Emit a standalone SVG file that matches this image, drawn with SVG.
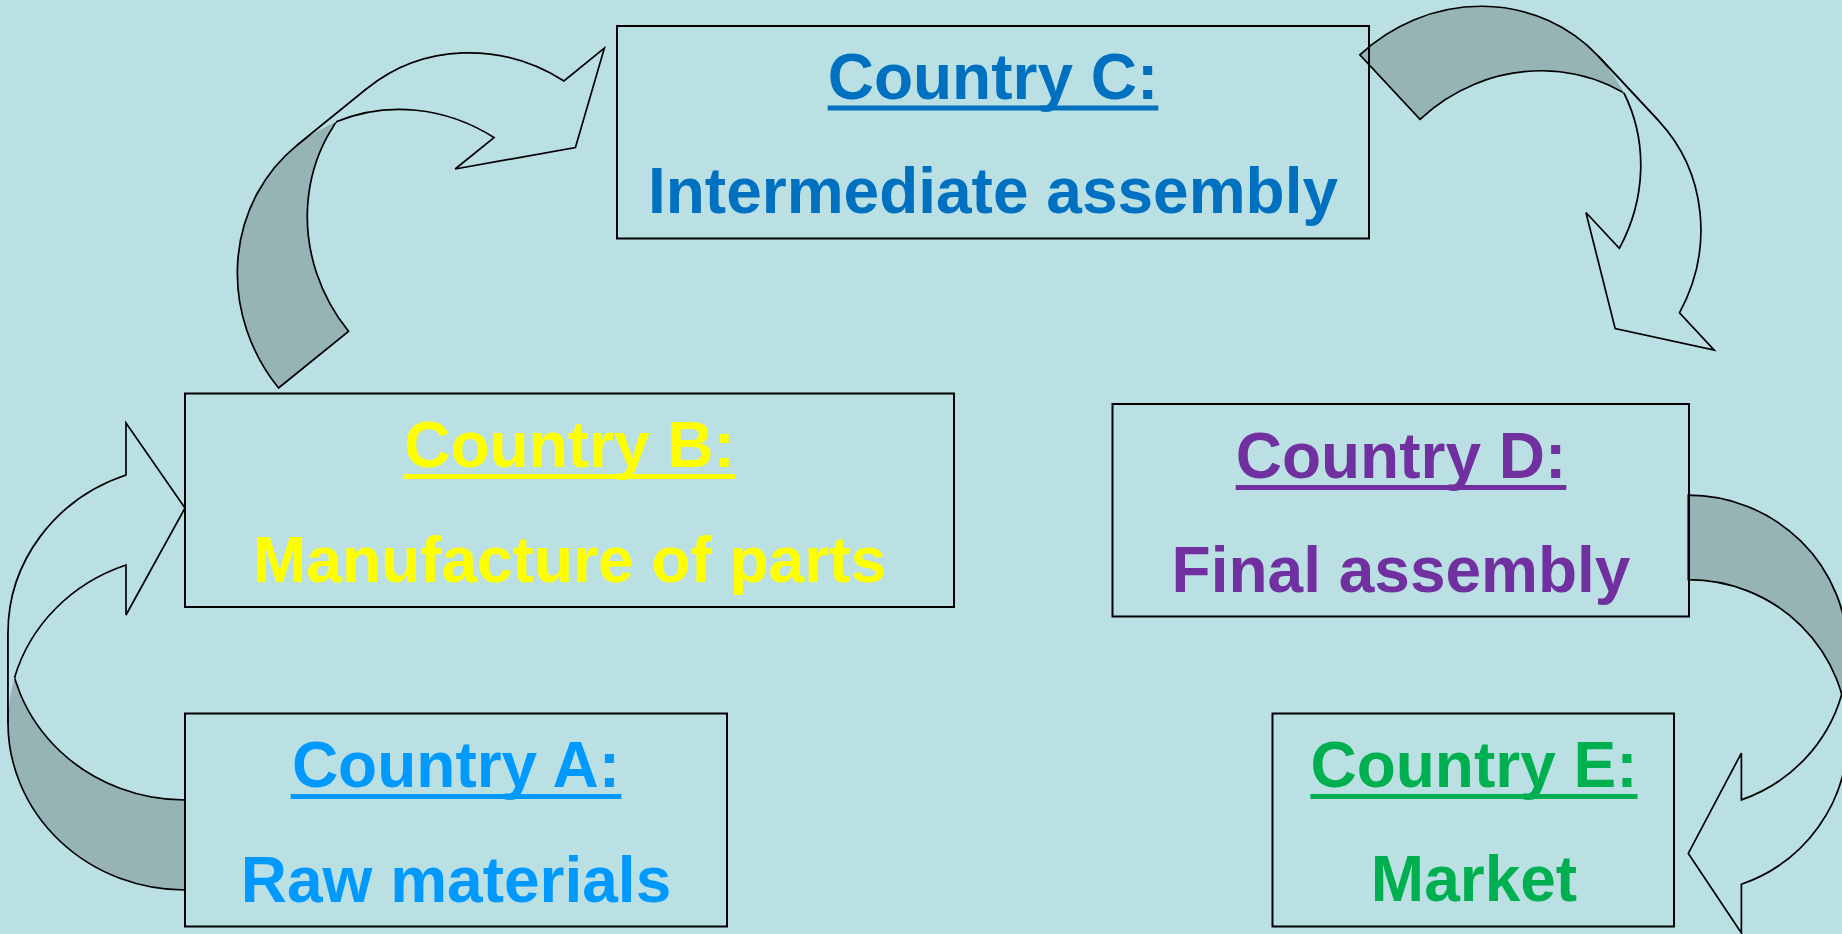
<svg xmlns="http://www.w3.org/2000/svg" xmlns:xlink="http://www.w3.org/1999/xlink" width="1842" height="934" viewBox="0 0 1842 934">
  <style>
    .box { fill: none; stroke: #000; stroke-width: 2; }
    .lbl { font-family: "Liberation Sans", Arial, sans-serif; font-weight: bold; font-size: 64px; text-anchor: middle; }
    .back { fill: #96B3B6; stroke: #000; stroke-width: 1.7; stroke-linejoin: miter; }
    .ffill { fill: #BBE0E3; stroke: none; }
    .fstroke { fill: none; stroke: #000; stroke-width: 1.7; stroke-linejoin: miter; }
    .ca { fill: #0099FF; } .cb { fill: #FFFF00; } .cc { fill: #0070C0; } .cd { fill: #7030A0; } .ce { fill: #00B050; }
  </style>
  <defs>
    <g id="curvedArrow">
      <path class="back" vector-effect="non-scaling-stroke" d="M0,0 A177,167.3 0 0 1 -177,-167.3 L-177,-77.3 A177,167.3 0 0 0 0,90 Z"/>
      <path class="ffill" d="M-177,-167.3 A177,167.3 0 0 1 -59,-325 L-59,-377 L0,-292 L-59,-185 L-59,-235 A177,167.3 0 0 0 -177,-77.3 Z"/>
      <path class="fstroke" vector-effect="non-scaling-stroke" d="M-177,-77.3 L-177,-167.3 A177,167.3 0 0 1 -59,-325 L-59,-377 L0,-292 L-59,-185 L-59,-235 A177,167.3 0 0 0 -170.5,-122.3"/>
    </g>
  </defs>
  <rect width="1842" height="934" fill="#BBE0E3"/>

  <g id="connectors">
    <use id="arrow-a-b" xlink:href="#curvedArrow" href="#curvedArrow" transform="translate(185,800)"/>
    <use id="arrow-b-c" xlink:href="#curvedArrow" href="#curvedArrow" transform="translate(348.5,331.3) rotate(51)"/>
    <use id="arrow-c-d" xlink:href="#curvedArrow" href="#curvedArrow" transform="translate(1420,119.3) rotate(137) scale(0.98)"/>
    <use id="arrow-d-e" xlink:href="#curvedArrow" href="#curvedArrow" transform="translate(1688.3,579.6) rotate(180) scale(0.9,0.9375)"/>
  </g>

  <g id="node-c">
    <rect class="box" x="617" y="26" width="752" height="212.5"/>
    <text class="lbl cc" x="993" y="98.5">Country C:</text>
    <rect class="cc" x="827.7" y="105.5" width="330.6" height="5"/>
    <text class="lbl cc" x="993" y="213">Intermediate assembly</text>
  </g>

  <g id="node-b">
    <rect class="box" x="185" y="393.5" width="769" height="213.5"/>
    <text class="lbl cb" x="569.5" y="467">Country B:</text>
    <rect class="cb" x="404.2" y="474" width="330.6" height="5"/>
    <text class="lbl cb" x="569.5" y="581.5">Manufacture of parts</text>
  </g>

  <g id="node-d">
    <rect class="box" x="1112.5" y="404" width="576.5" height="212.5"/>
    <text class="lbl cd" x="1401" y="478">Country D:</text>
    <rect class="cd" x="1235.7" y="485" width="330.6" height="5"/>
    <text class="lbl cd" x="1401" y="592">Final assembly</text>
  </g>

  <g id="node-a">
    <rect class="box" x="185" y="713.5" width="542" height="213"/>
    <text class="lbl ca" x="456" y="787">Country A:</text>
    <rect class="ca" x="290.7" y="794" width="330.6" height="5"/>
    <text class="lbl ca" x="456" y="901.5">Raw materials</text>
  </g>

  <g id="node-e">
    <rect class="box" x="1272.5" y="713.5" width="401.5" height="213"/>
    <text class="lbl ce" x="1474" y="787">Country E:</text>
    <rect class="ce" x="1310.4" y="794" width="327.1" height="5"/>
    <text class="lbl ce" x="1474" y="900.5">Market</text>
  </g>
</svg>
